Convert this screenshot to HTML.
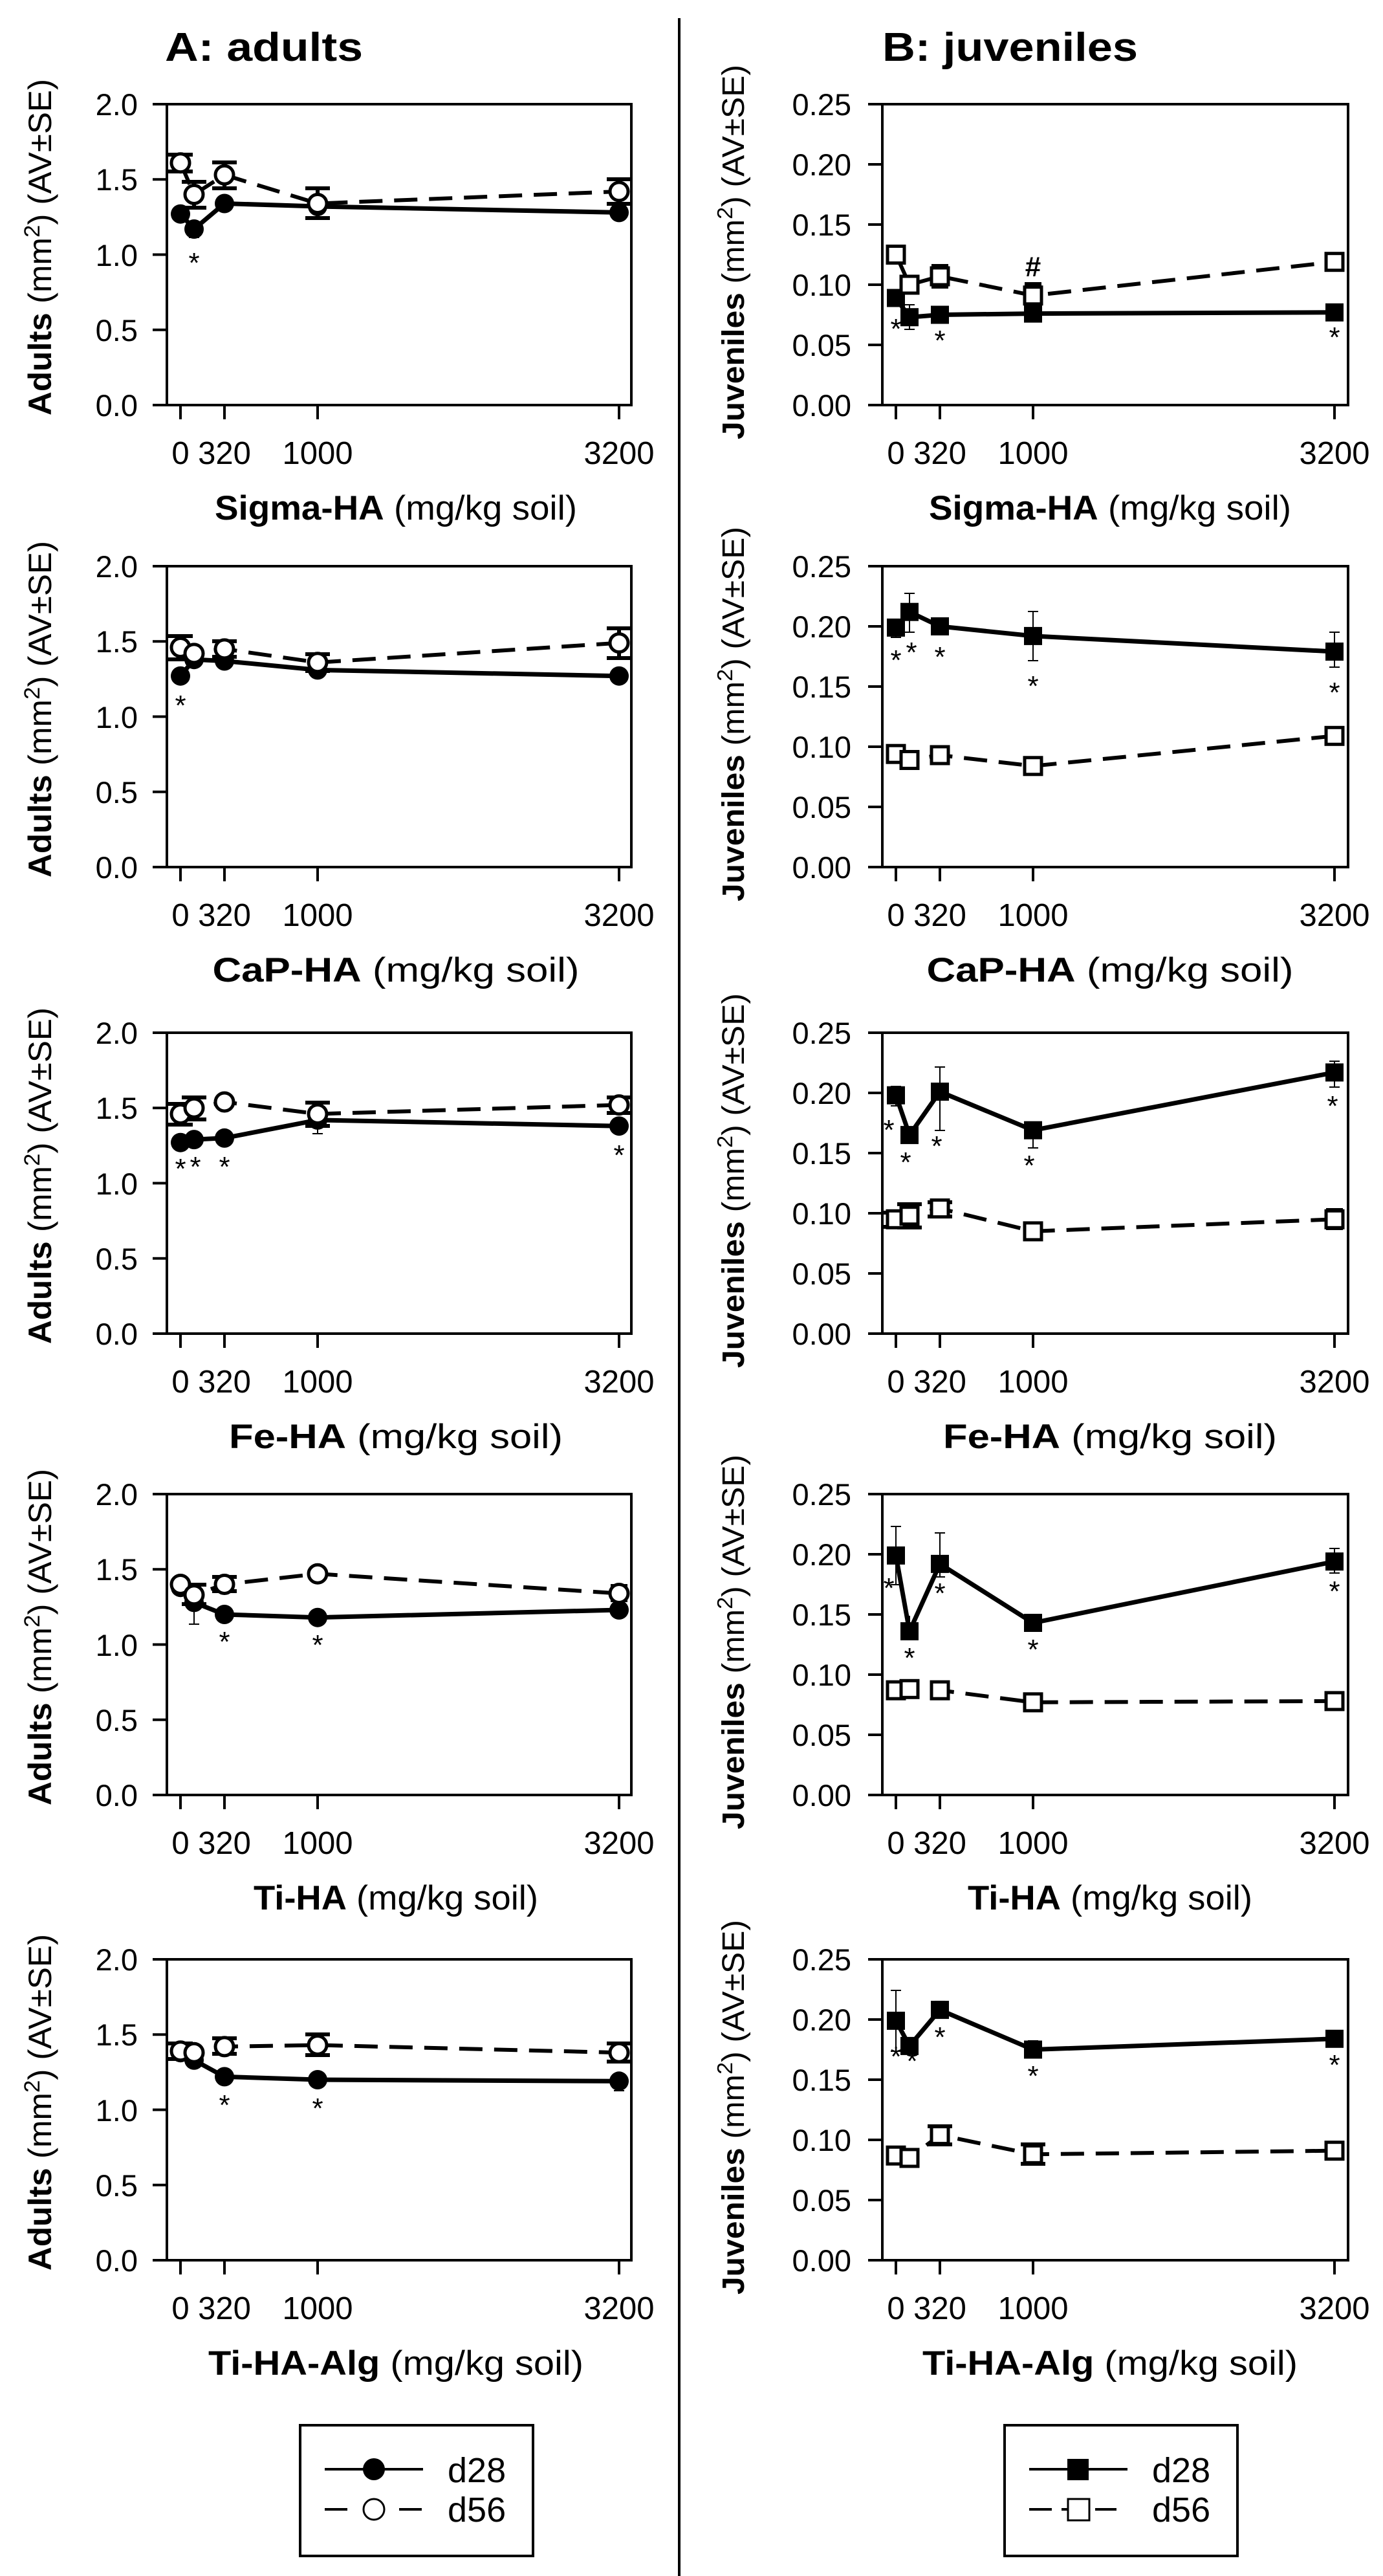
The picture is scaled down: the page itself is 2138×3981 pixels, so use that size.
<!DOCTYPE html>
<html><head><meta charset="utf-8"><style>
html,body{margin:0;padding:0;background:#fff}
svg{display:block}
text{font-family:"Liberation Sans",Arial,sans-serif;fill:#000}
</style></head><body>
<svg width="2138" height="3981" viewBox="0 0 2138 3981" xmlns="http://www.w3.org/2000/svg">
<defs>
<g id="axL">
<rect x="0" y="0" width="718" height="465" fill="none" stroke="#000" stroke-width="4"/>
<path d="M-22 0H0M-22 116.25H0M-22 232.5H0M-22 348.75H0M-22 465H0M21 465v22M89 465v22M233 465v22M699 465v22" stroke="#000" stroke-width="4"/>
<g font-size="47" text-anchor="end"><text x="-45" y="17">2.0</text><text x="-45" y="133">1.5</text><text x="-45" y="250">1.0</text><text x="-45" y="366">0.5</text><text x="-45" y="482">0.0</text></g>
<g font-size="49" text-anchor="middle"><text x="21" y="556">0</text><text x="89" y="556">320</text><text x="233" y="556">1000</text><text x="699" y="556">3200</text></g>
<text transform="translate(-179,481) rotate(-90)" font-size="50" textLength="520" lengthAdjust="spacingAndGlyphs"><tspan font-weight="bold">Adults</tspan> (mm<tspan font-size="34" dy="-18">2</tspan><tspan dy="18">) (AV±SE)</tspan></text>
</g>
<g id="axR">
<rect x="0" y="0" width="720" height="465" fill="none" stroke="#000" stroke-width="4"/>
<path d="M-22 0H0M-22 93H0M-22 186H0M-22 279H0M-22 372H0M-22 465H0M21 465v22M89 465v22M233 465v22M699 465v22" stroke="#000" stroke-width="4"/>
<g font-size="47" text-anchor="end"><text x="-48" y="17">0.25</text><text x="-48" y="110">0.20</text><text x="-48" y="203">0.15</text><text x="-48" y="296">0.10</text><text x="-48" y="389">0.05</text><text x="-48" y="482">0.00</text></g>
<g font-size="49" text-anchor="middle"><text x="21" y="556">0</text><text x="89" y="556">320</text><text x="233" y="556">1000</text><text x="699" y="556">3200</text></g>
<text transform="translate(-214,518) rotate(-90)" font-size="48" textLength="579" lengthAdjust="spacingAndGlyphs"><tspan font-weight="bold">Juveniles</tspan> (mm<tspan font-size="33" dy="-18">2</tspan><tspan dy="18">) (AV±SE)</tspan></text>
</g>
</defs>

<text x="255" y="94" font-size="62" font-weight="bold" textLength="306" lengthAdjust="spacingAndGlyphs">A: adults</text>
<text x="1364" y="94" font-size="62" font-weight="bold" textLength="395" lengthAdjust="spacingAndGlyphs">B: juveniles</text>
<line x1="1050" y1="28" x2="1050" y2="3981" stroke="#000" stroke-width="4"/>

<!-- ROW 1 -->
<g transform="translate(258,161)">
<use href="#axL"/>
<text x="354" y="642" font-size="53" text-anchor="middle" textLength="560" lengthAdjust="spacingAndGlyphs"><tspan font-weight="bold">Sigma-HA</tspan> (mg/kg soil)</text>
<g stroke="#000" stroke-width="6"><path d="M21 78v26M2 78h38M2 104h38M42 120v40M23 120h38M23 160h38M89 90v40M70 90h38M70 130h38M233 130v46M214 130h38M214 176h38M699 116v38M680 116h38M680 154h38"/></g>
<path d="M42 180v26M34 206h16M699 160v18M691 178h16" stroke="#000" stroke-width="2"/>
<polyline points="21,90.7 42,139.5 89,109.3 233,153.5 699,134.9" fill="none" stroke="#000" stroke-width="6" stroke-dasharray="36,18"/>
<polyline points="21,169.7 42,193 89,153.5 233,158 699,167.4" fill="none" stroke="#000" stroke-width="7"/>
<g fill="#000"><circle cx="21" cy="169.7" r="15"/><circle cx="42" cy="193" r="15"/><circle cx="89" cy="153.5" r="15"/><circle cx="233" cy="158" r="15"/><circle cx="699" cy="167.4" r="15"/></g>
<g fill="#fff" stroke="#000" stroke-width="5"><circle cx="21" cy="90.7" r="14"/><circle cx="42" cy="139.5" r="14"/><circle cx="89" cy="109.3" r="14"/><circle cx="233" cy="153.5" r="14"/><circle cx="699" cy="134.9" r="14"/></g>
<g font-size="44" text-anchor="middle"><text x="42" y="260">*</text></g>
</g>
<g transform="translate(1364,161)">
<use href="#axR"/>
<text x="352" y="642" font-size="53" text-anchor="middle" textLength="560" lengthAdjust="spacingAndGlyphs"><tspan font-weight="bold">Sigma-HA</tspan> (mg/kg soil)</text>
<g stroke="#000" stroke-width="6"><path d="M21 222v22M8 222h26M8 244h26M89 250v32M76 250h26M76 282h26M233 278v36M220 278h26M220 314h26"/></g>
<path d="M42 310v38M34 310h16M34 348h16" stroke="#000" stroke-width="2"/>
<polyline points="21,232.5 42,279 89,266 233,295.7 699,243.7" fill="none" stroke="#000" stroke-width="6" stroke-dasharray="36,18"/>
<polyline points="21,299.5 42,329.2 89,325.5 233,323.6 699,321.8" fill="none" stroke="#000" stroke-width="7"/>
<g fill="#000"><rect x="7" y="285.5" width="28" height="28"/><rect x="28" y="315.2" width="28" height="28"/><rect x="75" y="311.5" width="28" height="28"/><rect x="219" y="309.6" width="28" height="28"/><rect x="685" y="307.8" width="28" height="28"/></g>
<g fill="#fff" stroke="#000" stroke-width="5"><rect x="8" y="219.5" width="26" height="26"/><rect x="29" y="266" width="26" height="26"/><rect x="76" y="253" width="26" height="26"/><rect x="220" y="282.7" width="26" height="26"/><rect x="686" y="230.7" width="26" height="26"/></g>
<g font-size="44" text-anchor="middle"><text x="21" y="362">*</text><text x="89" y="380">*</text><text x="699" y="375">*</text><text x="233" y="266" font-weight="bold">#</text></g>
</g>

<!-- ROW 2 -->
<g transform="translate(258,875)">
<use href="#axL"/>
<text x="354" y="642" font-size="53" text-anchor="middle" textLength="567" lengthAdjust="spacingAndGlyphs"><tspan font-weight="bold">CaP-HA</tspan> (mg/kg soil)</text>
<g stroke="#000" stroke-width="6"><path d="M21 108v36M2 108h38M2 144h38M89 116v24M70 116h38M70 140h38M233 136v26M214 136h38M214 162h38M699 96v46M680 96h38M680 142h38"/></g>
<polyline points="21,125.5 42,134.9 89,127.9 233,148.8 699,118.6" fill="none" stroke="#000" stroke-width="6" stroke-dasharray="36,18"/>
<polyline points="21,169.7 42,144.2 89,146.5 233,160.4 699,169.7" fill="none" stroke="#000" stroke-width="7"/>
<g fill="#000"><circle cx="21" cy="169.7" r="15"/><circle cx="42" cy="144.2" r="15"/><circle cx="89" cy="146.5" r="15"/><circle cx="233" cy="160.4" r="15"/><circle cx="699" cy="169.7" r="15"/></g>
<g fill="#fff" stroke="#000" stroke-width="5"><circle cx="21" cy="125.5" r="14"/><circle cx="42" cy="134.9" r="14"/><circle cx="89" cy="127.9" r="14"/><circle cx="233" cy="148.8" r="14"/><circle cx="699" cy="118.6" r="14"/></g>
<g font-size="44" text-anchor="middle"><text x="21" y="230">*</text></g>
</g>
<g transform="translate(1364,875)">
<use href="#axR"/>
<text x="352" y="642" font-size="53" text-anchor="middle" textLength="567" lengthAdjust="spacingAndGlyphs"><tspan font-weight="bold">CaP-HA</tspan> (mg/kg soil)</text>
<path d="M21 88v22M13 88h16M13 110h16M42 42v60M34 42h16M34 102h16M89 86v16M81 86h16M81 102h16M233 70v76M225 70h16M225 146h16M699 102v54M691 102h16M691 156h16" stroke="#000" stroke-width="2"/>
<g stroke="#000" stroke-width="6"><path d="M233 298v22M220 298h26M220 320h26"/></g>
<polyline points="21,290.2 42,299.5 89,292 233,308.8 699,262.3" fill="none" stroke="#000" stroke-width="6" stroke-dasharray="36,18"/>
<polyline points="21,94.9 42,70.7 89,93 233,107.9 699,132" fill="none" stroke="#000" stroke-width="7"/>
<g fill="#000"><rect x="7" y="80.9" width="28" height="28"/><rect x="28" y="56.7" width="28" height="28"/><rect x="75" y="79" width="28" height="28"/><rect x="219" y="93.9" width="28" height="28"/><rect x="685" y="118" width="28" height="28"/></g>
<g fill="#fff" stroke="#000" stroke-width="5"><rect x="8" y="277.2" width="26" height="26"/><rect x="29" y="286.5" width="26" height="26"/><rect x="76" y="279" width="26" height="26"/><rect x="220" y="295.8" width="26" height="26"/><rect x="686" y="249.3" width="26" height="26"/></g>
<g font-size="44" text-anchor="middle"><text x="21" y="160">*</text><text x="45" y="148">*</text><text x="89" y="155">*</text><text x="233" y="200">*</text><text x="699" y="210">*</text></g>
</g>

<!-- ROW 3 -->
<g transform="translate(258,1596)">
<use href="#axL"/>
<text x="354" y="642" font-size="53" text-anchor="middle" textLength="516" lengthAdjust="spacingAndGlyphs"><tspan font-weight="bold">Fe-HA</tspan> (mg/kg soil)</text>
<g stroke="#000" stroke-width="6"><path d="M21 110v32M2 110h38M2 142h38M42 100v34M23 100h38M23 134h38M233 108v36M214 108h38M214 144h38M699 100v24M680 100h38M680 124h38"/></g>
<path d="M233 134v22M225 156h16" stroke="#000" stroke-width="2"/>
<polyline points="21,125.5 42,116.3 89,107 233,125.5 699,111.6" fill="none" stroke="#000" stroke-width="6" stroke-dasharray="36,18"/>
<polyline points="21,169.7 42,165.1 89,162.8 233,134.9 699,144.2" fill="none" stroke="#000" stroke-width="7"/>
<g fill="#000"><circle cx="21" cy="169.7" r="15"/><circle cx="42" cy="165.1" r="15"/><circle cx="89" cy="162.8" r="15"/><circle cx="233" cy="134.9" r="15"/><circle cx="699" cy="144.2" r="15"/></g>
<g fill="#fff" stroke="#000" stroke-width="5"><circle cx="21" cy="125.5" r="14"/><circle cx="42" cy="116.3" r="14"/><circle cx="89" cy="107" r="14"/><circle cx="233" cy="125.5" r="14"/><circle cx="699" cy="111.6" r="14"/></g>
<g font-size="44" text-anchor="middle"><text x="21" y="225">*</text><text x="44" y="222">*</text><text x="89" y="222">*</text><text x="699" y="204">*</text></g>
</g>
<g transform="translate(1364,1596)">
<use href="#axR"/>
<text x="352" y="642" font-size="53" text-anchor="middle" textLength="516" lengthAdjust="spacingAndGlyphs"><tspan font-weight="bold">Fe-HA</tspan> (mg/kg soil)</text>
<path d="M21 83v30M13 83h16M13 113h16M89 53v98M81 53h16M81 151h16M233 138v40M225 138h16M225 178h16M699 44v40M691 44h16M691 84h16" stroke="#000" stroke-width="2"/>
<g stroke="#000" stroke-width="6"><path d="M21 278v22M2 278h38M2 300h38M42 265v36M23 265h38M23 301h38M89 262v22M70 262h38M70 284h38M699 274v28M686 274h26M686 302h26"/></g>
<polyline points="21,288.3 42,282.7 89,271.6 233,306.9 699,288.3" fill="none" stroke="#000" stroke-width="6" stroke-dasharray="36,18"/>
<polyline points="21,96.7 42,158.1 89,91.1 233,150.7 699,61.4" fill="none" stroke="#000" stroke-width="7"/>
<g fill="#000"><rect x="7" y="82.7" width="28" height="28"/><rect x="28" y="144.1" width="28" height="28"/><rect x="75" y="77.1" width="28" height="28"/><rect x="219" y="136.7" width="28" height="28"/><rect x="685" y="47.4" width="28" height="28"/></g>
<g fill="#fff" stroke="#000" stroke-width="5"><rect x="8" y="275.3" width="26" height="26"/><rect x="29" y="269.7" width="26" height="26"/><rect x="76" y="258.6" width="26" height="26"/><rect x="220" y="293.9" width="26" height="26"/><rect x="686" y="275.3" width="26" height="26"/></g>
<g font-size="44" text-anchor="middle"><text x="10" y="165">*</text><text x="36" y="215">*</text><text x="84" y="190">*</text><text x="227" y="220">*</text><text x="696" y="128">*</text></g>
</g>

<!-- ROW 4 -->
<g transform="translate(258,2309)">
<use href="#axL"/>
<text x="354" y="642" font-size="53" text-anchor="middle" textLength="440" lengthAdjust="spacingAndGlyphs"><tspan font-weight="bold">Ti-HA</tspan> (mg/kg soil)</text>
<g stroke="#000" stroke-width="6"><path d="M42 140v30M23 140h38M23 170h38M89 128v22M70 128h38M70 150h38M699 142v22M686 142h26M686 164h26"/></g>
<path d="M42 167v34M34 201h16" stroke="#000" stroke-width="2"/>
<polyline points="21,139.5 42,155.8 89,139.5 233,123.2 699,153.5" fill="none" stroke="#000" stroke-width="6" stroke-dasharray="36,18"/>
<polyline points="21,144.2 42,167.4 89,186 233,190.7 699,179" fill="none" stroke="#000" stroke-width="7"/>
<g fill="#000"><circle cx="21" cy="144.2" r="15"/><circle cx="42" cy="167.4" r="15"/><circle cx="89" cy="186" r="15"/><circle cx="233" cy="190.7" r="15"/><circle cx="699" cy="179" r="15"/></g>
<g fill="#fff" stroke="#000" stroke-width="5"><circle cx="21" cy="139.5" r="14"/><circle cx="42" cy="155.8" r="14"/><circle cx="89" cy="139.5" r="14"/><circle cx="233" cy="123.2" r="14"/><circle cx="699" cy="153.5" r="14"/></g>
<g font-size="44" text-anchor="middle"><text x="89" y="243">*</text><text x="233" y="248">*</text></g>
</g>
<g transform="translate(1364,2309)">
<use href="#axR"/>
<text x="352" y="642" font-size="53" text-anchor="middle" textLength="440" lengthAdjust="spacingAndGlyphs"><tspan font-weight="bold">Ti-HA</tspan> (mg/kg soil)</text>
<path d="M21 50v90M13 50h16M13 140h16M42 188v30M89 60v68M81 60h16M81 128h16M699 84v38M691 84h16M691 122h16" stroke="#000" stroke-width="2"/>
<polyline points="21,303.2 42,301.3 89,303.2 233,321.8 699,319.9" fill="none" stroke="#000" stroke-width="6" stroke-dasharray="36,18"/>
<polyline points="21,94.9 42,212 89,107.9 233,199 699,104.2" fill="none" stroke="#000" stroke-width="7"/>
<g fill="#000"><rect x="7" y="80.9" width="28" height="28"/><rect x="28" y="198" width="28" height="28"/><rect x="75" y="93.9" width="28" height="28"/><rect x="219" y="185" width="28" height="28"/><rect x="685" y="90.2" width="28" height="28"/></g>
<g fill="#fff" stroke="#000" stroke-width="5"><rect x="8" y="290.2" width="26" height="26"/><rect x="29" y="288.3" width="26" height="26"/><rect x="76" y="290.2" width="26" height="26"/><rect x="220" y="308.8" width="26" height="26"/><rect x="686" y="306.9" width="26" height="26"/></g>
<g font-size="44" text-anchor="middle"><text x="10" y="160">*</text><text x="42" y="268">*</text><text x="89" y="168">*</text><text x="233" y="255">*</text><text x="699" y="165">*</text></g>
</g>

<!-- ROW 5 -->
<g transform="translate(258,3028)">
<use href="#axL"/>
<text x="354" y="642" font-size="53" text-anchor="middle" textLength="580" lengthAdjust="spacingAndGlyphs"><tspan font-weight="bold">Ti-HA-Alg</tspan> (mg/kg soil)</text>
<g stroke="#000" stroke-width="6"><path d="M21 130v24M2 130h38M2 154h38M89 122v24M70 122h38M70 146h38M233 116v32M214 116h38M214 148h38M699 130v28M680 130h38M680 158h38"/></g>
<path d="M699 175v28M691 203h16" stroke="#000" stroke-width="2"/>
<polyline points="21,141.8 42,144.2 89,134.9 233,132.5 699,144.2" fill="none" stroke="#000" stroke-width="6" stroke-dasharray="36,18"/>
<polyline points="21,144.2 42,155.8 89,181.4 233,186 699,188.3" fill="none" stroke="#000" stroke-width="7"/>
<g fill="#000"><circle cx="21" cy="144.2" r="15"/><circle cx="42" cy="155.8" r="15"/><circle cx="89" cy="181.4" r="15"/><circle cx="233" cy="186" r="15"/><circle cx="699" cy="188.3" r="15"/></g>
<g fill="#fff" stroke="#000" stroke-width="5"><circle cx="21" cy="141.8" r="14"/><circle cx="42" cy="144.2" r="14"/><circle cx="89" cy="134.9" r="14"/><circle cx="233" cy="132.5" r="14"/><circle cx="699" cy="144.2" r="14"/></g>
<g font-size="44" text-anchor="middle"><text x="89" y="240">*</text><text x="233" y="245">*</text></g>
</g>
<g transform="translate(1364,3028)">
<use href="#axR"/>
<text x="352" y="642" font-size="53" text-anchor="middle" textLength="580" lengthAdjust="spacingAndGlyphs"><tspan font-weight="bold">Ti-HA-Alg</tspan> (mg/kg soil)</text>
<path d="M21 48v94M13 48h16M13 142h16M89 65v26M81 65h16M81 91h16M233 126v26M225 126h16M225 152h16" stroke="#000" stroke-width="2"/>
<g stroke="#000" stroke-width="6"><path d="M89 258v28M70 258h38M70 286h38M233 286v30M214 286h38M214 316h38"/></g>
<polyline points="21,303.2 42,306.9 89,271.6 233,301.3 699,295.7" fill="none" stroke="#000" stroke-width="6" stroke-dasharray="36,18"/>
<polyline points="21,94.9 42,133.9 89,78.1 233,139.5 699,122.8" fill="none" stroke="#000" stroke-width="7"/>
<g fill="#000"><rect x="7" y="80.9" width="28" height="28"/><rect x="28" y="119.9" width="28" height="28"/><rect x="75" y="64.1" width="28" height="28"/><rect x="219" y="125.5" width="28" height="28"/><rect x="685" y="108.8" width="28" height="28"/></g>
<g fill="#fff" stroke="#000" stroke-width="5"><rect x="8" y="290.2" width="26" height="26"/><rect x="29" y="293.9" width="26" height="26"/><rect x="76" y="258.6" width="26" height="26"/><rect x="220" y="288.3" width="26" height="26"/><rect x="686" y="282.7" width="26" height="26"/></g>
<g font-size="44" text-anchor="middle"><text x="21" y="165">*</text><text x="46" y="172">*</text><text x="89" y="135">*</text><text x="233" y="195">*</text><text x="699" y="178">*</text></g>
</g>

<!-- LEGENDS -->
<g transform="translate(-1089,0)">
<rect x="1553" y="3748" width="360" height="202" fill="none" stroke="#000" stroke-width="4"/>
<line x1="1591" y1="3816" x2="1743" y2="3816" stroke="#000" stroke-width="4"/>
<circle cx="1667" cy="3816" r="17" fill="#000"/>
<path d="M1591 3878h35M1706 3878h35" stroke="#000" stroke-width="4"/>
<circle cx="1667" cy="3878" r="16" fill="#fff" stroke="#000" stroke-width="3"/>
<text x="1781" y="3836" font-size="54">d28</text>
<text x="1781" y="3897" font-size="54">d56</text>
</g>
<rect x="1553" y="3748" width="360" height="202" fill="none" stroke="#000" stroke-width="4"/>
<line x1="1591" y1="3816" x2="1743" y2="3816" stroke="#000" stroke-width="4"/>
<rect x="1650" y="3800" width="33" height="33" fill="#000"/>
<path d="M1591 3878h35M1641 3878h10M1693 3878h33" stroke="#000" stroke-width="4"/>
<rect x="1651" y="3862" width="33" height="33" fill="#fff" stroke="#000" stroke-width="3"/>
<text x="1781" y="3836" font-size="54">d28</text>
<text x="1781" y="3897" font-size="54">d56</text>
</svg>
</body></html>
